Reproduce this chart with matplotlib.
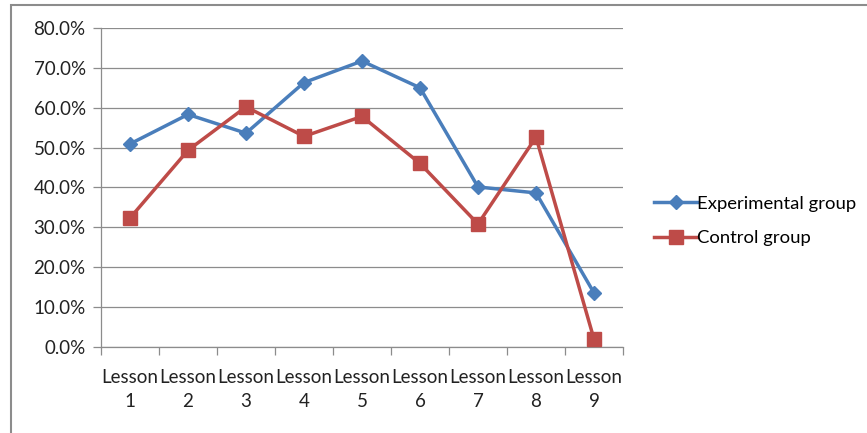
import matplotlib
matplotlib.use("Agg")
import matplotlib.pyplot as plt
from matplotlib.patches import Rectangle
from matplotlib.ticker import FuncFormatter, FixedLocator, NullFormatter

lessons = ["Lesson\n1", "Lesson\n2", "Lesson\n3", "Lesson\n4", "Lesson\n5",
           "Lesson\n6", "Lesson\n7", "Lesson\n8", "Lesson\n9"]
experimental = [50.9, 58.3, 53.6, 66.3, 71.7, 65.0, 40.1, 38.6, 13.5]
control = [32.3, 49.3, 60.2, 52.8, 57.8, 46.0, 30.8, 52.6, 1.9]

plt.rcParams["font.family"] = ["Lato", "DejaVu Sans"]

fig = plt.figure(figsize=(8.67, 4.33), dpi=100)
ax = fig.add_axes([101 / 867, 1 - 346.7 / 433, 522 / 867, 318.7 / 433])

# outer chart border
fig.patches.append(Rectangle((11 / 867, -0.1), 1.2, 1.1 - 5 / 433,
                             transform=fig.transFigure, fill=False,
                             edgecolor="#8c8c8c", linewidth=1.5))

x = list(range(len(lessons)))
ax.plot(x, experimental, color="#4a7ebb", linewidth=2.5, marker="D",
        markersize=7, label="Experimental group", zorder=3)
ax.plot(x, control, color="#be4b48", linewidth=2.5, marker="s",
        markersize=10, label="Control group", zorder=3)

ax.set_xlim(-0.5, len(lessons) - 0.5)
ax.set_ylim(0, 80)
ax.set_yticks(range(0, 81, 10))
ax.yaxis.set_major_formatter(FuncFormatter(lambda v, p: f"{v:.1f}%"))
ax.yaxis.grid(True, color="#8c8c8c", linewidth=0.9)
ax.set_axisbelow(True)

ax.set_xticks(x)
ax.set_xticklabels(lessons, linespacing=1.5)
ax.xaxis.set_minor_locator(FixedLocator([i - 0.5 for i in range(len(lessons) + 1)]))
ax.xaxis.set_minor_formatter(NullFormatter())
ax.tick_params(axis="x", which="major", length=0, pad=16, labelsize=13.5,
               colors="#222222")
ax.tick_params(axis="x", which="minor", length=6, color="#8c8c8c", width=0.9)
ax.tick_params(axis="y", length=6, color="#8c8c8c", width=0.9, labelsize=13.5,
               labelcolor="#222222", pad=5)

for s in ["top", "right"]:
    ax.spines[s].set_visible(False)
for s in ["left", "bottom"]:
    ax.spines[s].set_color("#8c8c8c")
    ax.spines[s].set_linewidth(0.9)

ax.legend(loc="center left", bbox_to_anchor=(647 / 867, 1 - 221 / 433),
          bbox_transform=fig.transFigure, frameon=False, fontsize=13.3,
          handlelength=2.3, handletextpad=0.0, labelspacing=1.0,
          borderaxespad=0)

fig.savefig("out.png", dpi=100)
